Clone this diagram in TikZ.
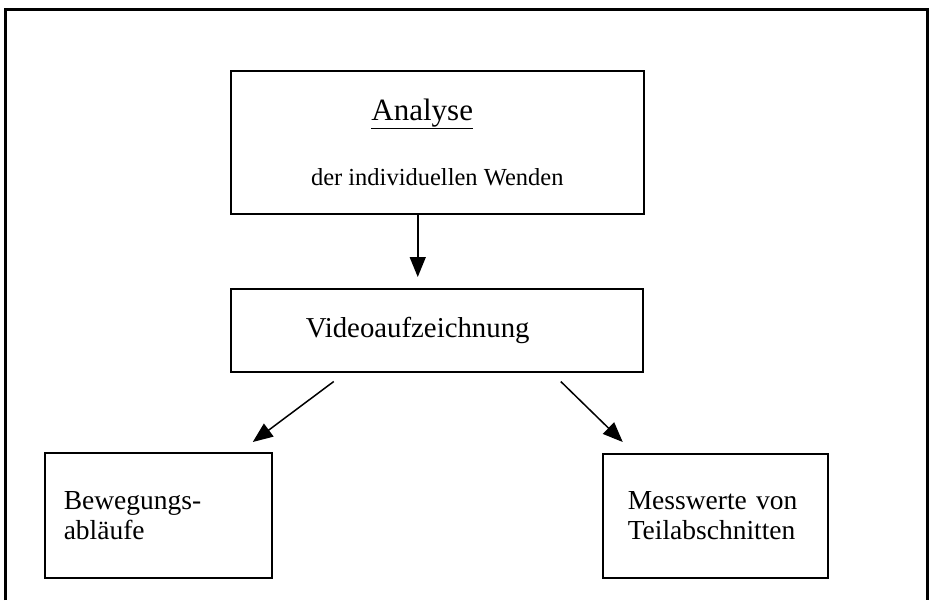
\documentclass[tikz,border=0pt]{standalone}
\usepackage{fontspec}
\setmainfont{Liberation Serif}
\usetikzlibrary{arrows.meta,positioning}

\begin{document}
\begin{tikzpicture}[
    x=1pt, y=-1pt,
    box/.style={rectangle, draw, line width=1.5pt, inner sep=0pt, anchor=north west, align=left},
    arrow/.style={-{Triangle[length=20pt,width=16pt]}, line width=1.5pt},
    txt/.style={font=\fontsize{27.5}{30}\selectfont}
]
\useasboundingbox (0,0) rectangle (931,600);

% outer frame
\draw[line width=3pt] (5,600) -- (5,9) -- (927,9) -- (927,600);

% boxes
\node[box, align=center, minimum width=413pt, minimum height=143pt, font=\fontsize{24.5}{29}\selectfont] (analyse) at (230,70)
    {{\fontsize{31}{36}\selectfont\underline{Analyse}\kern30pt}\\[36pt]der individuellen Wenden};

\node[box, font=\fontsize{28.8}{32}\selectfont, minimum width=412pt, minimum height=83pt, inner xsep=75pt, text width=262pt] (video) at (230,288) {Videoaufzeichnung};

\node[box, txt, minimum width=227pt, minimum height=125pt, inner xsep=19pt, text width=189pt] (bewegung) at (44,452) {Bewegungs-\\abläufe};

\node[box, txt, minimum width=225pt, minimum height=124pt, inner xsep=25pt, text width=175pt] (messwerte) at (602,453) {Messwerte von\\Teilabschnitten};

% arrows
\draw[arrow] ([xshift=-19.5pt]analyse.south) -- ([xshift=-19pt, yshift=11pt]video.north);
\draw[arrow] ([xshift=-103pt, yshift=-9pt]video.south) -- ([xshift=94.5pt, yshift=10pt]bewegung.north);
\draw[arrow] ([xshift=124pt, yshift=-9pt]video.south) -- ([xshift=-92.5pt, yshift=11pt]messwerte.north);

\end{tikzpicture}
\end{document}
